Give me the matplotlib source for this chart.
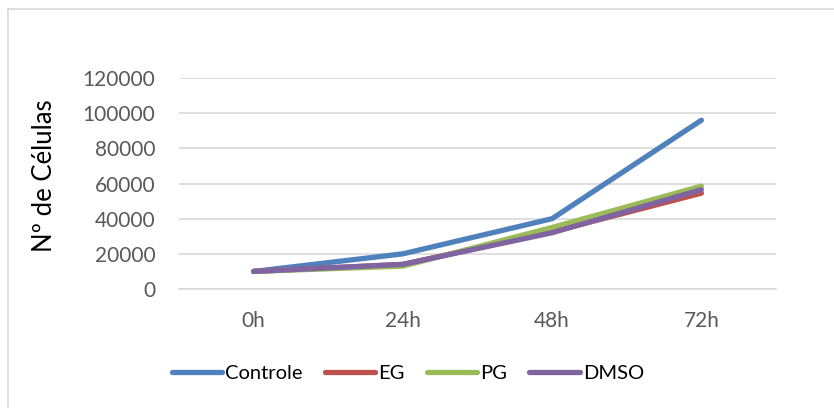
import matplotlib
matplotlib.use("Agg")
import matplotlib.pyplot as plt
from matplotlib.lines import Line2D

plt.rcParams['font.family'] = ['Lato', 'DejaVu Sans']

categories = ["0h", "24h", "48h", "72h"]
controle = [10000, 20000, 40000, 96000]
eg = [10000, 14000, 32500, 54500]
pg = [10000, 13000, 35000, 58500]
dmso = [10000, 14000, 32000, 56500]
series_names = ["Controle", "EG", "PG", "DMSO"]
colors = ["#4F81BD", "#C0504D", "#9BBB59", "#8064A2"]
yticks = [0, 20000, 40000, 60000, 80000, 100000, 120000]

W, H = 834, 408
fig = plt.figure(figsize=(W / 100, H / 100), dpi=100)
ax = fig.add_axes([179 / W, 1 - 289 / H, 597 / W, 211 / H])

x = list(range(len(categories)))
for vals, name, c in zip([controle, eg, pg, dmso], series_names, colors):
    ax.plot(x, vals, color=c, lw=3.8, solid_capstyle='round',
            solid_joinstyle='round', label=name)

ax.set_xlim(-0.5, len(categories) - 0.5)
ax.set_ylim(0, 120000)
ax.set_xticks(x)
ax.set_xticklabels(categories)
ax.set_yticks(yticks)
ax.set_yticklabels([str(v) for v in yticks])
ax.tick_params(axis='both', length=0, labelsize=15, colors='#595959')
ax.tick_params(axis='x', pad=16)
ax.tick_params(axis='y', pad=17)
ax.grid(axis='y', color='#D9D9D9', lw=1.2)
ax.set_axisbelow(True)
for s in ['left', 'right', 'top']:
    ax.spines[s].set_visible(False)
ax.spines['bottom'].set_color('#D9D9D9')
ax.spines['bottom'].set_linewidth(1.2)

fig.text(45 / W, 1 - 176 / H, "Nº de Células", rotation=90, fontsize=18.5,
         ha='center', va='center', color='black')

leg = fig.legend(loc='center', bbox_to_anchor=(408 / W, 1 - 373 / H), ncol=4,
                 frameon=False, fontsize=14.5, handlelength=2.5,
                 handletextpad=0.15, columnspacing=1.1)

# chart border (cropped on right/bottom)
fig.add_artist(Line2D([8 / W, 8 / W], [0, 1 - 9 / H], color='#D9D9D9', lw=1.2,
                      transform=fig.transFigure))
fig.add_artist(Line2D([8 / W, 1], [1 - 9 / H, 1 - 9 / H], color='#D9D9D9', lw=1.2,
                      transform=fig.transFigure))

fig.savefig("out.png", dpi=100)
